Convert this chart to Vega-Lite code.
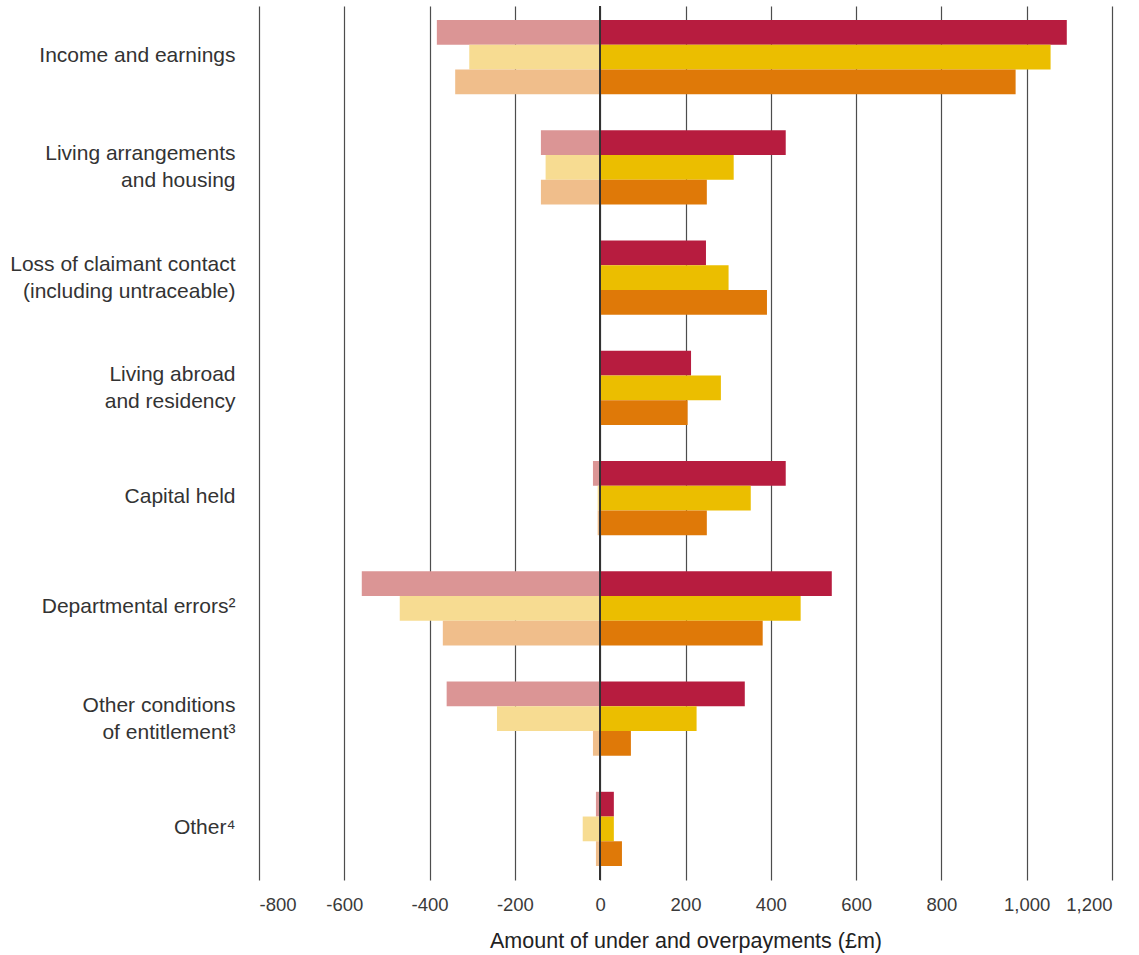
{
  "$schema": "https://vega.github.io/schema/vega-lite/v6.json",
  "autosize": {"type": "none"},
  "width": 853,
  "height": 874,
  "padding": {"left": 259, "top": 6, "right": 27, "bottom": 75},
  "background": "white",
  "config": {"view": {"stroke": null}, "font": "Liberation Sans"},
  "data": {
    "values": [
      {"cat": "Income and earnings", "yr": "Y1", "series": "Over Y1", "value": 1094},
      {"cat": "Income and earnings", "yr": "Y2", "series": "Over Y2", "value": 1056},
      {"cat": "Income and earnings", "yr": "Y3", "series": "Over Y3", "value": 974},
      {"cat": "Income and earnings", "yr": "Y1", "series": "Under Y1", "value": -383},
      {"cat": "Income and earnings", "yr": "Y2", "series": "Under Y2", "value": -307},
      {"cat": "Income and earnings", "yr": "Y3", "series": "Under Y3", "value": -340},
      {"cat": "Living arrangements|and housing", "yr": "Y1", "series": "Over Y1", "value": 435},
      {"cat": "Living arrangements|and housing", "yr": "Y2", "series": "Over Y2", "value": 313},
      {"cat": "Living arrangements|and housing", "yr": "Y3", "series": "Over Y3", "value": 250},
      {"cat": "Living arrangements|and housing", "yr": "Y1", "series": "Under Y1", "value": -139},
      {"cat": "Living arrangements|and housing", "yr": "Y2", "series": "Under Y2", "value": -128},
      {"cat": "Living arrangements|and housing", "yr": "Y3", "series": "Under Y3", "value": -139},
      {"cat": "Loss of claimant contact|(including untraceable)", "yr": "Y1", "series": "Over Y1", "value": 248},
      {"cat": "Loss of claimant contact|(including untraceable)", "yr": "Y2", "series": "Over Y2", "value": 301},
      {"cat": "Loss of claimant contact|(including untraceable)", "yr": "Y3", "series": "Over Y3", "value": 391},
      {"cat": "Living abroad|and residency", "yr": "Y1", "series": "Over Y1", "value": 213},
      {"cat": "Living abroad|and residency", "yr": "Y2", "series": "Over Y2", "value": 283},
      {"cat": "Living abroad|and residency", "yr": "Y3", "series": "Over Y3", "value": 205},
      {"cat": "Capital held", "yr": "Y1", "series": "Over Y1", "value": 435},
      {"cat": "Capital held", "yr": "Y2", "series": "Over Y2", "value": 353},
      {"cat": "Capital held", "yr": "Y3", "series": "Over Y3", "value": 250},
      {"cat": "Capital held", "yr": "Y1", "series": "Under Y1", "value": -17},
      {"cat": "Capital held", "yr": "Y2", "series": "Under Y2", "value": -6},
      {"cat": "Capital held", "yr": "Y3", "series": "Under Y3", "value": -6},
      {"cat": "Departmental errors²", "yr": "Y1", "series": "Over Y1", "value": 543},
      {"cat": "Departmental errors²", "yr": "Y2", "series": "Over Y2", "value": 470},
      {"cat": "Departmental errors²", "yr": "Y3", "series": "Over Y3", "value": 381},
      {"cat": "Departmental errors²", "yr": "Y1", "series": "Under Y1", "value": -559},
      {"cat": "Departmental errors²", "yr": "Y2", "series": "Under Y2", "value": -470},
      {"cat": "Departmental errors²", "yr": "Y3", "series": "Under Y3", "value": -369},
      {"cat": "Other conditions|of entitlement³", "yr": "Y1", "series": "Over Y1", "value": 339},
      {"cat": "Other conditions|of entitlement³", "yr": "Y2", "series": "Over Y2", "value": 226},
      {"cat": "Other conditions|of entitlement³", "yr": "Y3", "series": "Over Y3", "value": 72},
      {"cat": "Other conditions|of entitlement³", "yr": "Y1", "series": "Under Y1", "value": -360},
      {"cat": "Other conditions|of entitlement³", "yr": "Y2", "series": "Under Y2", "value": -242},
      {"cat": "Other conditions|of entitlement³", "yr": "Y3", "series": "Under Y3", "value": -17},
      {"cat": "Other⁴", "yr": "Y1", "series": "Over Y1", "value": 32},
      {"cat": "Other⁴", "yr": "Y2", "series": "Over Y2", "value": 32},
      {"cat": "Other⁴", "yr": "Y3", "series": "Over Y3", "value": 51},
      {"cat": "Other⁴", "yr": "Y1", "series": "Under Y1", "value": -10},
      {"cat": "Other⁴", "yr": "Y2", "series": "Under Y2", "value": -41},
      {"cat": "Other⁴", "yr": "Y3", "series": "Under Y3", "value": -10}
    ]
  },
  "layer": [
    {
      "mark": {"type": "bar"},
      "encoding": {
        "x": {
          "field": "value",
          "type": "quantitative",
          "scale": {"domain": [-800, 1200], "nice": false, "zero": false},
          "axis": {
            "values": [-800, -600, -400, -200, 0, 200, 400, 600, 800, 1000, 1200],
            "labelExpr": "replace(format(datum.value, ','), '\u2212', '-')",
            "domain": false,
            "ticks": false,
            "grid": true,
            "gridColor": "#4d4d4d",
            "gridWidth": 1.2,
            "labelFontSize": 18.5,
            "labelColor": "#3a3a3a",
            "labelPadding": 15,
            "labelFont": "Liberation Sans",
            "title": "Amount of under and overpayments (£m)",
            "titleFontSize": 21.5,
            "titleFontWeight": "normal",
            "titleColor": "#222222",
            "titleFont": "Liberation Sans",
            "titlePadding": 17
          }
        },
        "y": {
          "field": "cat",
          "type": "nominal",
          "sort": null,
          "scale": {"paddingInner": 0.327, "paddingOuter": 0.127},
          "axis": {
            "title": null,
            "domain": false,
            "ticks": false,
            "labelExpr": "split(datum.label, '|')",
            "labelFontSize": 21,
            "labelLineHeight": 27,
            "labelColor": "#333333",
            "labelPadding": 24,
            "labelLimit": 400,
            "labelOffset": {"condition": {"test": "indexof(datum.value, '|') >= 0", "value": -13}, "value": -1},
            "labelFont": "Liberation Sans"
          }
        },
        "yOffset": {
          "field": "yr",
          "type": "nominal",
          "sort": ["Y1", "Y2", "Y3"],
          "scale": {"paddingInner": 0, "paddingOuter": 0}
        },
        "color": {
          "field": "series",
          "type": "nominal",
          "legend": null,
          "scale": {
            "domain": ["Over Y1", "Over Y2", "Over Y3", "Under Y1", "Under Y2", "Under Y3"],
            "range": ["#B71C3F", "#EBBE00", "#DF7908", "#DB9595", "#F7DC92", "#F0BE8B"]
          }
        }
      }
    },
    {
      "mark": {"type": "rule", "color": "#333333", "strokeWidth": 1.3},
      "encoding": {"x": {"datum": 0}}
    }
  ]
}
